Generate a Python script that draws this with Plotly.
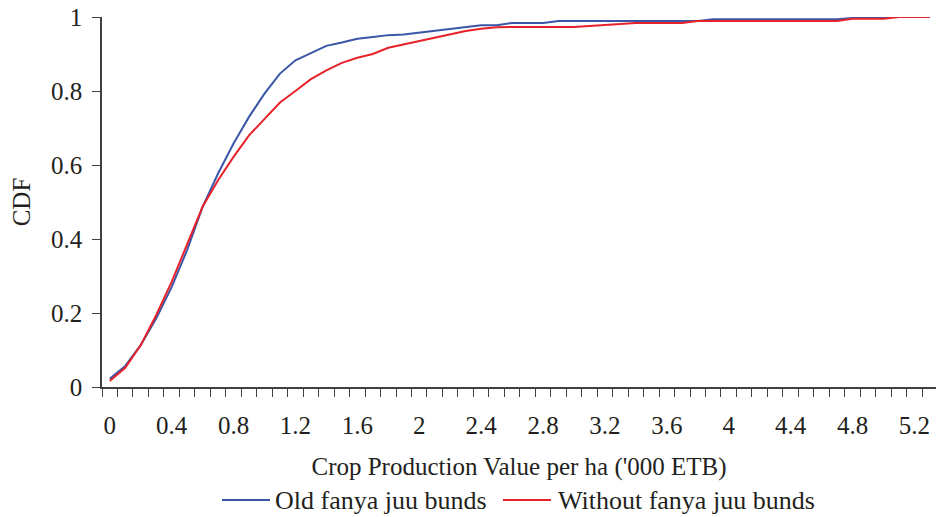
import plotly.graph_objects as go

# Category values (thousand ETB per ha)
x_values = [round(i * 0.1, 1) for i in range(54)]

old_bunds = [0.022, 0.057, 0.113, 0.185, 0.270, 0.370, 0.487, 0.577, 0.658, 0.730,
             0.793, 0.847, 0.883, 0.903, 0.922, 0.931, 0.941, 0.946, 0.951, 0.953,
             0.958, 0.964, 0.969, 0.974, 0.978, 0.978, 0.984, 0.984, 0.984, 0.989,
             0.989, 0.989, 0.989, 0.989, 0.989, 0.989, 0.989, 0.989, 0.989, 0.994,
             0.994, 0.994, 0.994, 0.994, 0.994, 0.994, 0.994, 0.994, 0.997, 0.999,
             1.000, 1.000, 1.000, 1.000]

without_bunds = [0.016, 0.052, 0.113, 0.194, 0.284, 0.383, 0.487, 0.559, 0.622, 0.680,
                 0.725, 0.769, 0.800, 0.832, 0.856, 0.876, 0.890, 0.900, 0.917, 0.926,
                 0.936, 0.946, 0.955, 0.962, 0.968, 0.972, 0.973, 0.973, 0.973, 0.973,
                 0.973, 0.976, 0.979, 0.982, 0.984, 0.984, 0.984, 0.984, 0.989, 0.989,
                 0.989, 0.989, 0.989, 0.989, 0.989, 0.989, 0.989, 0.989, 0.995, 0.995,
                 0.995, 1.000, 1.000, 1.000]

series_names = ["Old fanya juu bunds", "Without fanya juu bunds"]
series_colors = ["#3a57a7", "#e8222a"]

tick_vals = [0, 0.4, 0.8, 1.2, 1.6, 2, 2.4, 2.8, 3.2, 3.6, 4, 4.4, 4.8, 5.2]
tick_text = ["0", "0.4", "0.8", "1.2", "1.6", "2", "2.4", "2.8", "3.2", "3.6", "4", "4.4", "4.8", "5.2"]
y_ticks = [0, 0.2, 0.4, 0.6, 0.8, 1]
y_text = ["0", "0.2", "0.4", "0.6", "0.8", "1"]

FONT = "Liberation Serif, Times New Roman, serif"
FS = 25
TXT = "#231f20"
AX = "#404040"

W, H = 936, 517
ML, MR, MT, MB = 102, 0, 17, 130
PW, PH = W - ML - MR, H - MT - MB


def px_to_paper_x(px):
    return (px - ML) / PW


def px_to_paper_y(py):
    return (H - MB - py) / PH


fig = go.Figure()
for ys, name, col in zip([old_bunds, without_bunds], series_names, series_colors):
    fig.add_trace(go.Scatter(x=x_values, y=ys, mode="lines", name=name,
                             line=dict(color=col, width=2), showlegend=False,
                             hoverinfo="skip"))

# custom legend (long line samples like the original)
legend_y = px_to_paper_y(500)
legend_items = [(222, 270, 273), (503, 551, 556)]
shapes = []
annotations = []
for (x0, x1, xt), name, col in zip(legend_items, series_names, series_colors):
    shapes.append(dict(type="line", xref="paper", yref="paper",
                       x0=px_to_paper_x(x0), x1=px_to_paper_x(x1), y0=legend_y, y1=legend_y,
                       line=dict(color=col, width=2)))
    annotations.append(dict(xref="paper", yref="paper", x=px_to_paper_x(xt), y=legend_y,
                            xanchor="left", yanchor="middle", showarrow=False, text=name,
                            font=dict(family=FONT, size=26, color=TXT)))

fig.update_layout(
    width=W, height=H,
    margin=dict(l=ML, r=MR, t=MT, b=MB),
    paper_bgcolor="white", plot_bgcolor="white",
    font=dict(family=FONT, size=FS, color=TXT),
    showlegend=False,
    shapes=shapes, annotations=annotations,
    xaxis=dict(
        range=[-0.05, 5.3395], showgrid=False, zeroline=False, automargin=False,
        showline=True, linecolor=AX, linewidth=1.5,
        tickmode="array", tickvals=tick_vals, ticktext=tick_text,
        ticks="outside", ticklen=0, ticklabelstandoff=15,
        tickfont=dict(family=FONT, size=FS, color=TXT),
        minor=dict(tick0=-0.05, dtick=0.1, ticks="outside", ticklen=8,
                   tickcolor=AX, tickwidth=1, showgrid=False),
        title=dict(text="Crop Production Value per ha ('000 ETB)",
                   font=dict(family=FONT, size=FS, color=TXT), standoff=20),
    ),
    yaxis=dict(
        range=[0, 1], showgrid=False, zeroline=False, automargin=False,
        showline=True, linecolor=AX, linewidth=1.5,
        tickmode="array", tickvals=y_ticks, ticktext=y_text,
        ticks="outside", ticklen=8, tickcolor=AX, tickwidth=1, ticklabelstandoff=5,
        tickfont=dict(family=FONT, size=FS, color=TXT),
        title=dict(text="CDF", font=dict(family=FONT, size=FS, color=TXT), standoff=13),
    ),
)

fig.write_html("out.html", config={"displayModeBar": False},
               post_script="document.body.style.margin='0';document.body.style.overflow='hidden';")
